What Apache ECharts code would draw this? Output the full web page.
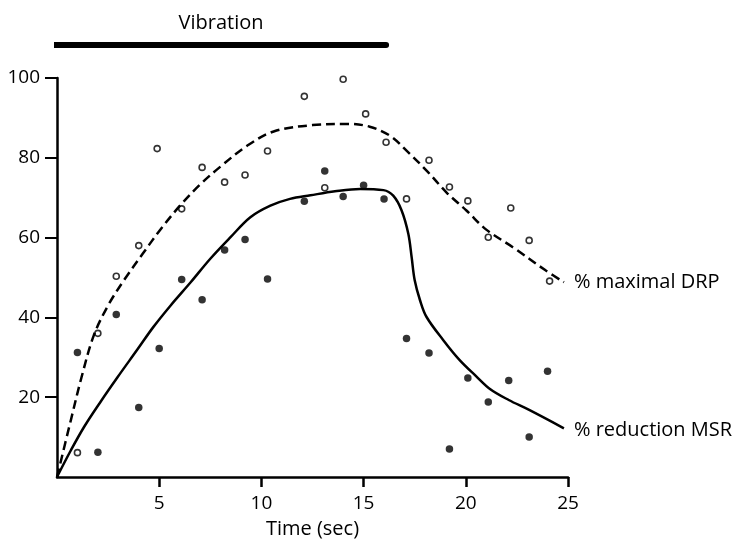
<!DOCTYPE html>
<html>
<head>
<meta charset="utf-8">
<script src="https://cdn.jsdelivr.net/npm/echarts@6/dist/echarts.min.js"></script>
<style>
  html, body { margin: 0; padding: 0; background: #fff; }
  #chart { width: 746px; height: 539px; }
</style>
</head>
<body>
<div id="chart"></div>
<script>
// open circles: % maximal DRP
const drpPoints = [
  [1, 6.1], [2, 36], [2.9, 50.3], [4, 58], [4.9, 82.3], [6.1, 67.2], [7.1, 77.6],
  [8.2, 73.9], [9.2, 75.7], [10.3, 81.7], [12.1, 95.4], [13.1, 72.5], [14, 99.7],
  [15.1, 91], [16.1, 83.9], [17.1, 69.7], [18.2, 79.4], [19.2, 72.7], [20.1, 69.2],
  [21.1, 60.1], [22.2, 67.4], [23.1, 59.3], [24.1, 49.1]
];
// filled dots: % reduction MSR
const msrPoints = [
  [1, 31.2], [2, 6.2], [2.9, 40.7], [4, 17.4], [5, 32.2], [6.1, 49.5], [7.1, 44.4],
  [8.2, 56.9], [9.2, 59.5], [10.3, 49.6], [12.1, 69.1], [13.1, 76.7], [14, 70.3],
  [15, 73.1], [16, 69.7], [17.1, 34.7], [18.2, 31.1], [19.2, 7], [20.1, 24.8],
  [21.1, 18.8], [22.1, 24.2], [23.1, 10], [24, 26.5]
];
// fitted curves
const drpCurve = [
  [0, 0], [0.68, 14.3], [1.2, 25], [1.8, 35.5], [2.5, 43], [3.3, 49.5], [4.2, 56],
  [5.1, 62.3], [6.05, 68.2], [7, 73.3], [8, 77.8], [9.3, 83], [10.6, 86.6], [12.5, 88.2],
  [14.2, 88.5], [15.3, 87.8], [16.3, 85.5], [17.1, 81.8], [18.08, 76.8], [19.06, 71.3],
  [20.03, 66.8], [21, 62], [22.3, 57.6], [23.9, 51.8], [24.8, 48.8]
];
const msrCurve = [
  [0, 0], [0.68, 6.7], [1.33, 12.6], [2.15, 19], [2.96, 25], [3.94, 32], [4.7, 37.5],
  [5.56, 43], [6.54, 48.8], [7.5, 54.7], [8.49, 60.1], [9.46, 65.1], [10.44, 68],
  [11.4, 69.7], [12.4, 70.6], [13.6, 71.6], [14.83, 72.2], [15.97, 71.9], [16.45, 70.5],
  [16.86, 66.8], [17.19, 60.9], [17.35, 55.1], [17.5, 49.3], [17.76, 44.3], [18.08, 40.1],
  [18.9, 34.3], [19.7, 29.3], [20.5, 25.3], [21.2, 22], [22.1, 19.3], [23.1, 16.8],
  [24.8, 12.2]
];
const vibration = [-0.15, 16.1]; // stimulus period (sec)
const xTicks = [5, 10, 15, 20, 25];
const yTicks = [20, 40, 60, 80, 100];

const font = "Open Sans";
const chart = echarts.init(document.getElementById("chart"));

chart.setOption({
  animation: false,
  textStyle: { fontFamily: font, color: "#000" },
  grid: { left: 57, right: 178, top: 78, bottom: 62, outerBoundsMode: "none" },
  title: {
    text: "Vibration",
    left: 216, top: 8, textAlign: "center",
    textStyle: { fontFamily: font, fontSize: 20, fontWeight: "normal", color: "#000" }
  },
  xAxis: {
    type: "value", min: 0, max: 25, interval: 5,
    name: "Time (sec)", nameLocation: "middle", nameGap: 42,
    nameTextStyle: { fontFamily: font, fontSize: 20, color: "#000" },
    splitLine: { show: false },
    axisLine: { lineStyle: { color: "#000", width: 2.5 } },
    axisTick: { customValues: xTicks, length: 10, lineStyle: { color: "#000", width: 2.5 } },
    axisLabel: { customValues: xTicks, margin: 17, fontSize: 19, color: "#000", fontFamily: font }
  },
  yAxis: {
    type: "value", min: 0, max: 100, interval: 20,
    splitLine: { show: false },
    axisLine: { show: true, lineStyle: { color: "#000", width: 2.5 } },
    axisTick: { show: true, customValues: yTicks, length: 12, lineStyle: { color: "#000", width: 2 } },
    axisLabel: { customValues: yTicks, margin: 17, fontSize: 19, color: "#000", fontFamily: font }
  },
  series: [
    {
      type: "line",
      data: vibration.map((t) => [t, 108.3]),
      symbol: "none", clip: false, silent: true,
      lineStyle: { color: "#000", width: 6, cap: "round" }
    },
    {
      type: "line", data: drpCurve, smooth: 0.35,
      symbol: "none", silent: true,
      lineStyle: { color: "#000", width: 2.5, type: [9, 5] },
      endLabel: {
        show: true, formatter: "% maximal DRP", distance: 10,
        fontFamily: font, fontSize: 20, color: "#000"
      }
    },
    {
      type: "line", data: msrCurve, smooth: 0.35,
      symbol: "none", silent: true,
      lineStyle: { color: "#000", width: 2.5 },
      endLabel: {
        show: true, formatter: "% reduction MSR", distance: 10, offset: [0, 2],
        fontFamily: font, fontSize: 20, color: "#000"
      }
    },
    {
      type: "scatter", data: drpPoints, symbol: "circle", symbolSize: 6,
      itemStyle: { color: "#fff", borderColor: "#000", borderWidth: 1.6 }
    },
    {
      type: "scatter", data: msrPoints, symbol: "circle", symbolSize: 7.5,
      itemStyle: { color: "#000" }
    }
  ]
});
</script>
</body>
</html>
